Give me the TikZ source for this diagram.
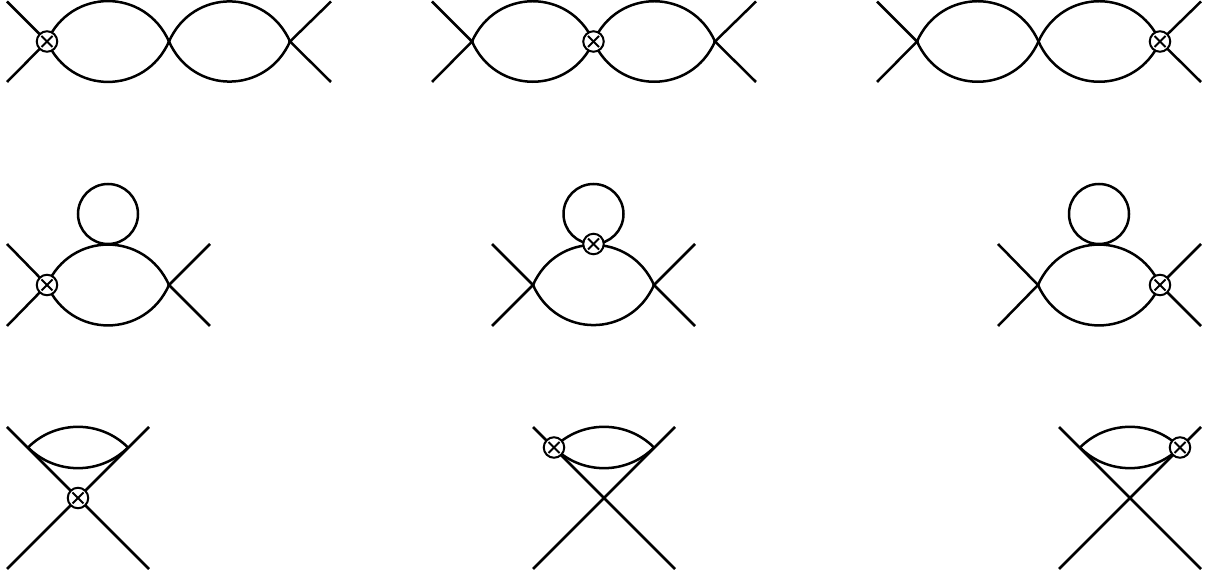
\documentclass[tikz,border=0pt]{standalone}
\usepackage{xcolor}
\usepackage{tikz}
\tikzset{
  leg/.style={line width=2.5pt},
  bubble/.style={line width=2.5pt, out=66, in=114, looseness=1.24},
  flatbubble/.style={line width=2.5pt, out=45, in=135},
  tadpole/.style={draw, line width=2.5pt, circle, minimum size=60pt, inner sep=0pt},
  insertion/.style={draw, line width=2pt, circle, fill=white, minimum size=20.5pt, inner sep=0pt,
    path picture={
      \draw[line width=2pt] ([shift={(-5.5pt,-5.5pt)}]path picture bounding box.center) -- ([shift={(5.5pt,5.5pt)}]path picture bounding box.center);
      \draw[line width=2pt] ([shift={(-5.5pt,5.5pt)}]path picture bounding box.center) -- ([shift={(5.5pt,-5.5pt)}]path picture bounding box.center);
    }},
}

\begin{document}
\begin{tikzpicture}[x=1pt, y=1pt]
\useasboundingbox (0,0) rectangle (1208,573);

% top row
\coordinate (tla) at (47,531.5);
\coordinate (tlb) at (169,531.5);
\coordinate (tlc) at (290,531.5);
\draw[leg] (7,571.5) coordinate (tlnw) -- (tla) -- (7,491) coordinate (tlsw);
\draw[leg] (331,571.5) coordinate (tlne) -- (tlc) -- (331,491) coordinate (tlse);
\draw[bubble] (tla) to (tlb);
\draw[bubble] (tlb) to (tlc);
\draw[bubble, out=-66, in=-114] (tla) to (tlb);
\draw[bubble, out=-66, in=-114] (tlb) to (tlc);
\node[insertion] (tlins) at (tla) {};

\coordinate (tma) at (472,531.5);
\coordinate (tmb) at (593.5,531.5);
\coordinate (tmc) at (715,531.5);
\draw[leg] (432,571.5) coordinate (tmnw) -- (tma) -- (432,491) coordinate (tmsw);
\draw[leg] (756,571.5) coordinate (tmne) -- (tmc) -- (756,491) coordinate (tmse);
\draw[bubble] (tma) to (tmb);
\draw[bubble] (tmb) to (tmc);
\draw[bubble, out=-66, in=-114] (tma) to (tmb);
\draw[bubble, out=-66, in=-114] (tmb) to (tmc);
\node[insertion] (tmins) at (tmb) {};

\coordinate (tra) at (917,531.5);
\coordinate (trb) at (1038.5,531.5);
\coordinate (trc) at (1160,531.5);
\draw[leg] (877,571.5) coordinate (trnw) -- (tra) -- (877,491) coordinate (trsw);
\draw[leg] (1201,571.5) coordinate (trne) -- (trc) -- (1201,491) coordinate (trse);
\draw[bubble] (tra) to (trb);
\draw[bubble] (trb) to (trc);
\draw[bubble, out=-66, in=-114] (tra) to (trb);
\draw[bubble, out=-66, in=-114] (trb) to (trc);
\node[insertion] (trins) at (trc) {};

% middle row
\coordinate (mla) at (47,288);
\coordinate (mlb) at (169,288);
\draw[leg] (7,329) coordinate (mlnw) -- (mla) -- (7,247) coordinate (mlsw);
\draw[leg] (210,329) coordinate (mlne) -- (mlb) -- (210,247) coordinate (mlse);
\draw[bubble] (mla) to (mlb);
\draw[bubble, out=-66, in=-114] (mla) to (mlb);
\node[tadpole] (mlloop) at (108,359) {};
\node[insertion] (mlins) at (mla) {};

\coordinate (mma) at (533,288);
\coordinate (mmb) at (654,288);
\draw[leg] (492,329) coordinate (mmnw) -- (mma) -- (492,247) coordinate (mmsw);
\draw[leg] (695,329) coordinate (mmne) -- (mmb) -- (695,247) coordinate (mmse);
\draw[bubble] (mma) to (mmb);
\draw[bubble, out=-66, in=-114] (mma) to (mmb);
\node[tadpole] (mmloop) at (593.5,359) {};
\node[insertion] (mmins) at (593.5,329) {};

\coordinate (mra) at (1038,288);
\coordinate (mrb) at (1160,288);
\draw[leg] (998,329) coordinate (mrnw) -- (mra) -- (998,247) coordinate (mrsw);
\draw[leg] (1201,329) coordinate (mrne) -- (mrb) -- (1201,247) coordinate (mrse);
\draw[bubble] (mra) to (mrb);
\draw[bubble, out=-66, in=-114] (mra) to (mrb);
\node[tadpole] (mrloop) at (1099,359) {};
\node[insertion] (mrins) at (mrb) {};

% bottom row
\coordinate (bla) at (28,125.5);
\coordinate (blb) at (128,125.5);
\coordinate (blc) at (78,75);
\draw[leg] (7,146) coordinate (blnw) -- (149,4) coordinate (blse);
\draw[leg] (149,146) coordinate (blne) -- (7,4) coordinate (blsw);
\draw[flatbubble] (bla) to (blb);
\draw[flatbubble, out=-45, in=-135] (bla) to (blb);
\node[insertion] (blins) at (blc) {};

\coordinate (bma) at (554,125.5);
\coordinate (bmb) at (654,125.5);
\draw[leg] (533,146) coordinate (bmnw) -- (675,4) coordinate (bmse);
\draw[leg] (675,146) coordinate (bmne) -- (533,4) coordinate (bmsw);
\draw[flatbubble] (bma) to (bmb);
\draw[flatbubble, out=-45, in=-135] (bma) to (bmb);
\node[insertion] (bmins) at (bma) {};

\coordinate (bra) at (1080,125.5);
\coordinate (brb) at (1180,125.5);
\draw[leg] (1059,146) coordinate (brnw) -- (1201,4) coordinate (brse);
\draw[leg] (1201,146) coordinate (brne) -- (1059,4) coordinate (brsw);
\draw[flatbubble] (bra) to (brb);
\draw[flatbubble, out=-45, in=-135] (bra) to (brb);
\node[insertion] (brins) at (brb) {};
\end{tikzpicture}
\end{document}
